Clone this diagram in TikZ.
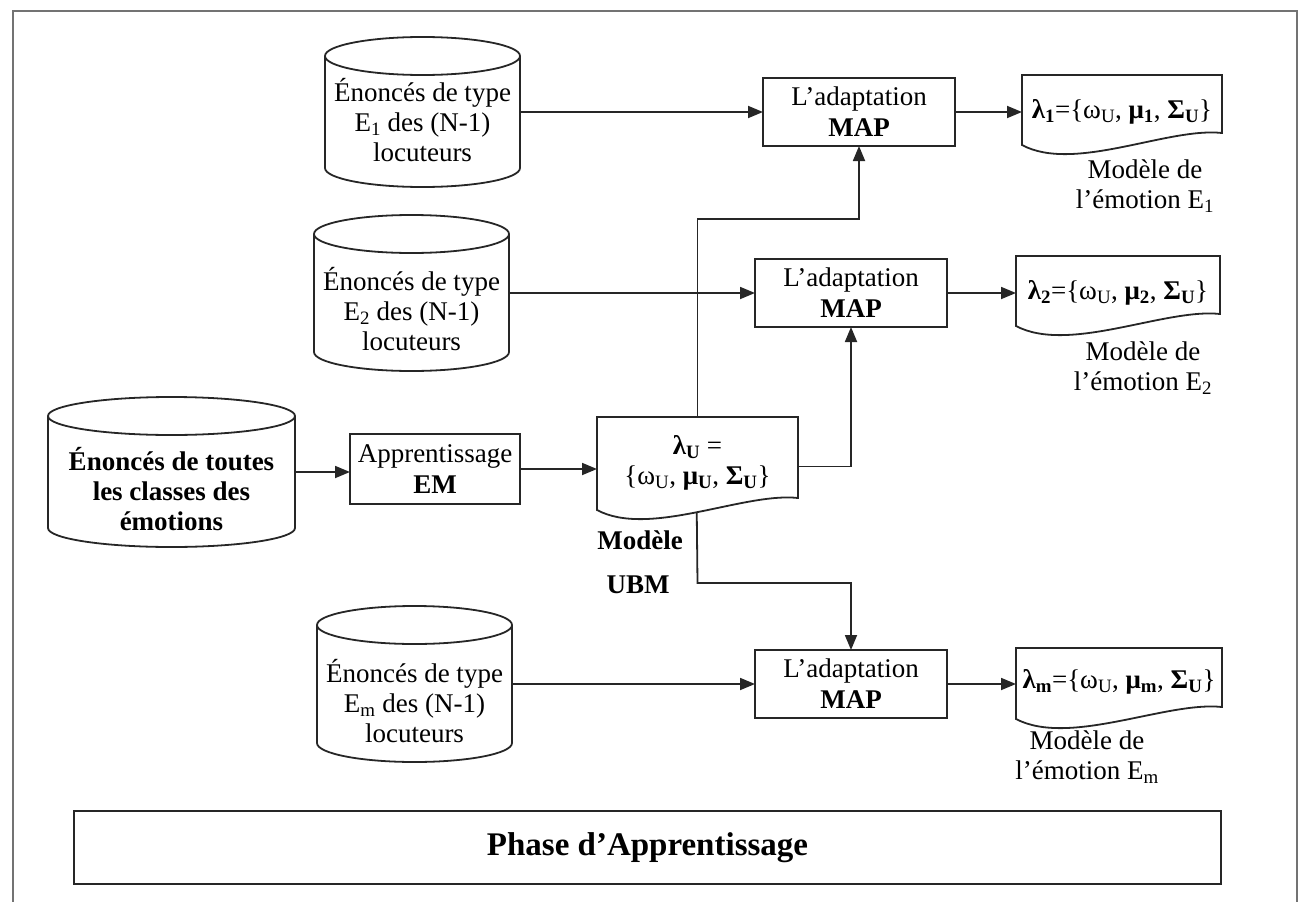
\documentclass[tikz,border=0pt]{standalone}
\usepackage{fontspec}
\setmainfont{Liberation Serif}
\usetikzlibrary{arrows.meta,calc}

% cylinder drawn around an (invisible) rectangular node: #1 node, #2 x radius
\newcommand\cylpath[2]{%
  \draw[shapeline] ([yshift=-19pt]#1.north west) -- ([yshift=19pt]#1.south west)
    arc[start angle=180, end angle=360, x radius=#2, y radius=19pt]
    -- ([yshift=-19pt]#1.north east);
  \draw[shapeline] ([yshift=-19pt]#1.north) ellipse[x radius=#2, y radius=19pt];
}
% document shape with a wavy lower edge around node #1
\newcommand\docpath[1]{%
  \draw[shapeline] (#1.north west) -- (#1.north east) -- (#1.south east)
    .. controls ($(#1.south west)!0.73!(#1.south east)+(0,6pt)$)
       and ($(#1.south west)!0.26!(#1.south east)+(0,-40pt)$) ..
    coordinate[pos=0.5] (#1-dip) ([yshift=-12pt]#1.south west) -- cycle;
}

\begin{document}
\begin{tikzpicture}[x=1pt,y=-1pt,
  every node/.style={inner sep=0pt, outer sep=0pt},
  shapeline/.style={line width=1.8pt, draw=black!85},
  area/.style={rectangle, draw=none},
  blk/.style={rectangle, shapeline, align=center, font=\fontsize{27pt}{31pt}\selectfont},
  txt/.style={align=center, font=\fontsize{27pt}{30pt}\selectfont},
  txtb/.style={align=center, font=\fontsize{27pt}{30pt}\selectfont\bfseries},
  arr/.style={line width=1.8pt, draw=black!85, -{Triangle[length=15pt,width=12pt]}}]

\useasboundingbox (0,0) rectangle (1304,902);

% outer frame
\draw[line width=2pt, black!55] (13,902) -- (13,11) -- (1297,11) -- (1297,902);

% databases
\node[area, minimum width=195pt, minimum height=150pt] (c1) at (422.5,112) {};
\node[area, minimum width=195pt, minimum height=156pt] (c2) at (411.5,293) {};
\node[area, minimum width=195pt, minimum height=156pt] (c3) at (414.5,684) {};
\node[area, minimum width=247pt, minimum height=150pt] (big) at (171.5,472) {};
\cylpath{c1}{97.5pt}
\cylpath{c2}{97.5pt}
\cylpath{c3}{97.5pt}
\cylpath{big}{123.5pt}
\node[txt] (c1t) at (422.5,120) {Énoncés de type\\E\textsubscript{1} des (N-1)\\locuteurs};
\node[txt] (c2t) at (411.5,309) {Énoncés de type\\E\textsubscript{2} des (N-1)\\locuteurs};
\node[txt] (c3t) at (414.5,701) {Énoncés de type\\E\textsubscript{m} des (N-1)\\locuteurs};
\node[txtb] (bigt) at (171.5,489) {Énoncés de toutes\\les classes des\\émotions};

% processing blocks
\node[blk, minimum width=170pt, minimum height=70pt] (em) at (435,469) {Apprentissage\\\textbf{EM}};
\node[blk, minimum width=192pt, minimum height=68pt] (map1) at (859,112) {L’adaptation\\\textbf{MAP}};
\node[blk, minimum width=192pt, minimum height=68pt] (map2) at (851,293) {L’adaptation\\\textbf{MAP}};
\node[blk, minimum width=192pt, minimum height=68pt] (map3) at (851,684) {L’adaptation\\\textbf{MAP}};

% models
\node[area, minimum width=201pt, minimum height=81pt] (ubm) at (697.5,457.5) {};
\node[area, minimum width=200pt, minimum height=58pt] (d1) at (1122,104) {};
\node[area, minimum width=204pt, minimum height=58pt] (d2) at (1118,285) {};
\node[area, minimum width=206pt, minimum height=59pt] (d3) at (1119,677.5) {};
\docpath{ubm}
\docpath{d1}
\docpath{d2}
\docpath{d3}
\node[txt] (ubmt) at (697.5,463) {\textbf{λ\textsubscript{U}} =\\\{ω\textsubscript{U}, \textbf{μ\textsubscript{U}}, \textbf{Σ\textsubscript{U}}\}};
\node[txt] (d1t) at (1122,112) {\textbf{λ\textsubscript{1}}=\{ω\textsubscript{U}, \textbf{μ\textsubscript{1}}, \textbf{Σ\textsubscript{U}}\}};
\node[txt] (d2t) at (1118,293) {\textbf{λ\textsubscript{2}}=\{ω\textsubscript{U}, \textbf{μ\textsubscript{2}}, \textbf{Σ\textsubscript{U}}\}};
\node[txt] (d3t) at (1119,682) {\textbf{λ\textsubscript{m}}=\{ω\textsubscript{U}, \textbf{μ\textsubscript{m}}, \textbf{Σ\textsubscript{U}}\}};

% captions
\node[txtb] (modl) at (640,540) {Modèle};
\node[txtb] (ubml) at (638,585) {UBM};
\node[txt] (d1l) at (1145,186) {Modèle de\\l’émotion E\textsubscript{1}};
\node[txt] (d2l) at (1143,368) {Modèle de\\l’émotion E\textsubscript{2}};
\node[txt] (d3l) at (1087,757) {Modèle de\\l’émotion E\textsubscript{m}};

% connectors
\coordinate (k1) at (697.5,219);
\coordinate (k3) at (697.5,583);
\draw[arr] (big.east) -- (big.east -| em.west);
\draw[arr] (em.east) -- (em.east -| ubm.west);
\draw[arr] (c1.east) -- (c1.east -| map1.west);
\draw[arr] (c2.east) -- (c2.east -| map2.west);
\draw[arr] (c3.east) -- (c3.east -| map3.west);
\draw[arr] (map1.east) -- (map1.east -| d1.west);
\draw[arr] (map2.east) -- (map2.east -| d2.west);
\draw[arr] (map3.east) -- (map3.east -| d3.west);
\draw[arr] (ubm.north) -- (k1) -| (map1.south);
\draw[arr] ([yshift=-9pt]ubm.east) -| (map2.south);
\draw[arr] (ubm-dip) -- (k3) -| (map3.north);

% phase banner
\node[rectangle, draw=black!85, line width=2.2pt, minimum width=1147pt, minimum height=73pt,
      font=\fontsize{33pt}{35pt}\selectfont\bfseries] (phase) at (647.5,847.5) {Phase d’Apprentissage};
\end{tikzpicture}
\end{document}
